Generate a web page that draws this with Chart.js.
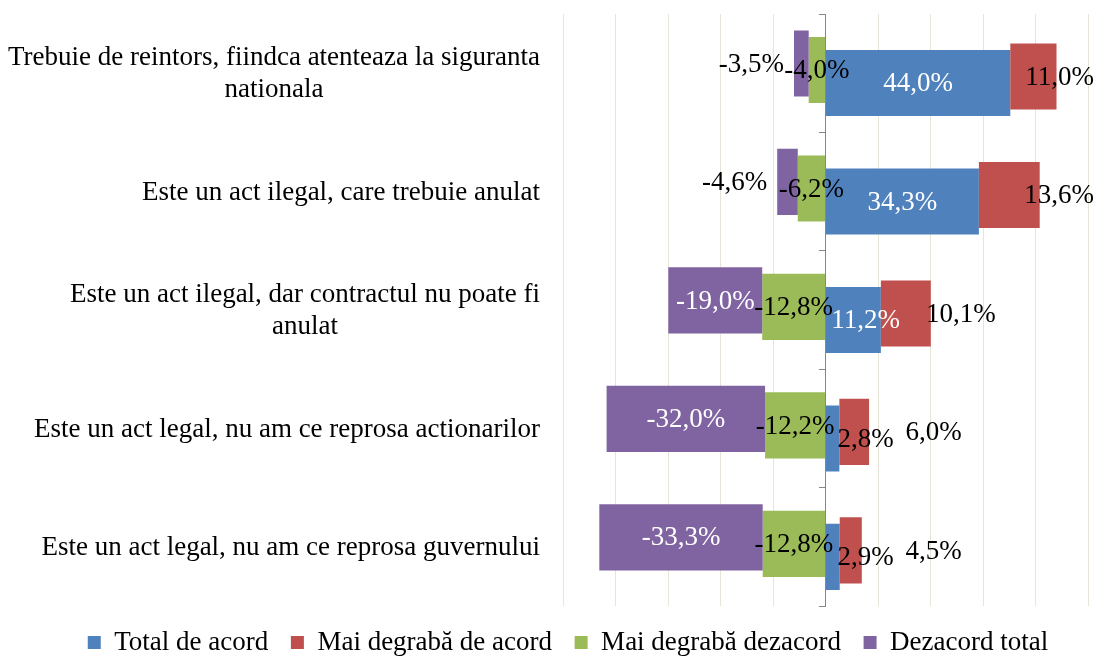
<!DOCTYPE html>
<html lang="ro">
<head>
<meta charset="utf-8">
<title>Acord / dezacord</title>
<script src="https://cdn.jsdelivr.net/npm/chart.js@4.4.1/dist/chart.umd.min.js"></script>
<style>
  html, body { margin: 0; padding: 0; background: #fff; }
  #wrap { position: relative; width: 1110px; height: 657px; }
</style>
</head>
<body>
<div id="wrap"><canvas id="chart"></canvas></div>
<script>
// ---- DATA ----
const categories = [
  ['Trebuie de reintors, fiindca atenteaza la siguranta', 'nationala'],
  ['Este un act ilegal, care trebuie anulat'],
  ['Este un act ilegal, dar contractul nu poate fi', 'anulat'],
  ['Este un act legal, nu am ce reprosa actionarilor'],
  ['Este un act legal, nu am ce reprosa guvernului']
];
const totalAcord = [44.0, 34.3, 11.2, 2.8, 2.9];
const maiDegrabaAcord = [11.0, 13.6, 10.1, 6.0, 4.5];
const maiDegrabaDezacord = [-4.0, -6.2, -12.8, -12.2, -12.8];
const dezacordTotal = [-3.5, -4.6, -19.0, -32.0, -33.3];

// ---- STYLE ----
const FONT_FAMILY = "'Liberation Serif', 'Times New Roman', serif";
const FONT_SIZE = 27;
const FONT = FONT_SIZE + 'px ' + FONT_FAMILY;
const COLORS = { blue: '#4F81BD', red: '#C0504D', green: '#9BBB59', purple: '#8064A2' };

// 100% stacked: every row is shared out over the sum of its four answers
const rowTotals = categories.map((_, i) =>
  Math.abs(totalAcord[i]) + Math.abs(maiDegrabaAcord[i]) +
  Math.abs(maiDegrabaDezacord[i]) + Math.abs(dezacordTotal[i]));
const share = (v, i) => v / rowTotals[i] * 100;

const blueBars = totalAcord.map((v, i) => [0, share(v, i)]);
const redBars = maiDegrabaAcord.map((v, i) => [share(totalAcord[i], i), share(totalAcord[i] + v, i)]);
const greenBars = maiDegrabaDezacord.map((v, i) => [0, share(v, i)]);
const purpleBars = dezacordTotal.map((v, i) => [share(maiDegrabaDezacord[i], i), share(maiDegrabaDezacord[i] + v, i)]);

const fmt = v => v.toFixed(1).replace('.', ',') + '%';

// ---- PLUGINS ----
// category labels: block right-aligned to the plot, lines centred on each other
const categoryLabels = {
  id: 'categoryLabels',
  afterDraw(chart) {
    const { ctx, chartArea, scales } = chart;
    const lineH = 32;
    const right = chartArea.left - 23;
    ctx.save();
    ctx.font = FONT;
    ctx.fillStyle = '#000';
    ctx.textAlign = 'center';
    ctx.textBaseline = 'middle';
    categories.forEach((lines, i) => {
      const blockW = Math.max(...lines.map(l => ctx.measureText(l).width));
      const cx = right - blockW / 2;
      const cy = scales.y.getPixelForValue(i) + 1;
      const top = cy - (lines.length - 1) * lineH / 2;
      lines.forEach((l, k) => ctx.fillText(l, cx, top + k * lineH));
    });
    ctx.restore();
  }
};

const dataLabels = {
  id: 'dataLabels',
  afterDatasetsDraw(chart) {
    const { ctx } = chart;
    const zero = chart.scales.x.getPixelForValue(0);
    ctx.save();
    ctx.font = FONT;
    ctx.textBaseline = 'middle';
    ctx.textAlign = 'center';
    chart.data.datasets.forEach((ds, di) => {
      chart.getDatasetMeta(di).data.forEach((bar, i) => {
        const { x, y, base } = bar.getProps(['x', 'y', 'base'], true);
        const left = Math.min(x, base), right = Math.max(x, base);
        const w = right - left;
        const text = fmt(ds.values[i]);
        const tw = ctx.measureText(text).width;
        let cx = (left + right) / 2;
        let color = '#000';
        if (ds.key === 'blue') {
          cx = Math.max(cx, zero + 40);
          if (w > 45) color = '#fff';
        } else if (ds.key === 'red') {
          cx = Math.min(Math.max(right + 30, zero + 108), chart.width - tw / 2 - 16);
        } else if (ds.key === 'purple') {
          if (w > 45) color = '#fff';
          else cx = left - 10 - tw / 2;
        }
        ctx.fillStyle = color;
        ctx.fillText(text, cx, y + 1);
      });
    });
    ctx.restore();
  }
};

// ---- CHART ----
function initChart() {
  const canvas = document.getElementById('chart');
  // datasets listed top to bottom inside each row; legend shows them reversed
  new Chart(canvas, {
    type: 'bar',
    data: {
      labels: categories.map(c => c.join(' ')),
      datasets: [
        { key: 'purple', label: 'Dezacord total', data: purpleBars, values: dezacordTotal, backgroundColor: COLORS.purple },
        { key: 'green', label: 'Mai degrabă dezacord', data: greenBars, values: maiDegrabaDezacord, backgroundColor: COLORS.green },
        { key: 'red', label: 'Mai degrabă de acord', data: redBars, values: maiDegrabaAcord, backgroundColor: COLORS.red },
        { key: 'blue', label: 'Total de acord', data: blueBars, values: totalAcord, backgroundColor: COLORS.blue }
      ]
    },
    options: {
      indexAxis: 'y',
      responsive: true,
      maintainAspectRatio: false,
      animation: false,
      categoryPercentage: 0.22,
      barPercentage: 10.15,
      layout: { padding: { top: 14, right: 22, left: 48, bottom: -9 } },
      scales: {
        x: {
          min: -100, max: 100,
          ticks: { display: false, stepSize: 20 },
          grid: { color: '#E8E5D6', drawTicks: false },
          border: { display: false }
        },
        y: {
          offset: true,
          ticks: { display: false },
          grid: { display: false },
          border: { display: false },
          afterFit: s => { s.width = 515; }
        },
        yAxis: {
          type: 'category',
          axis: 'y',
          position: { x: 0 },
          offset: true,
          ticks: { display: false },
          grid: { offset: true, drawOnChartArea: false, drawTicks: true, tickLength: 6, color: '#868686' },
          border: { display: true, color: '#868686', width: 1 }
        }
      },
      plugins: {
        legend: {
          position: 'bottom',
          labels: {
            boxWidth: 13, boxHeight: 13, padding: 22.6, color: '#000',
            font: { family: FONT_FAMILY, size: FONT_SIZE },
            sort: (a, b) => b.datasetIndex - a.datasetIndex
          }
        },
        tooltip: { enabled: false }
      }
    },
    plugins: [dataLabels, categoryLabels]
  });
}

document.addEventListener('DOMContentLoaded', initChart);
</script>
</body>
</html>
